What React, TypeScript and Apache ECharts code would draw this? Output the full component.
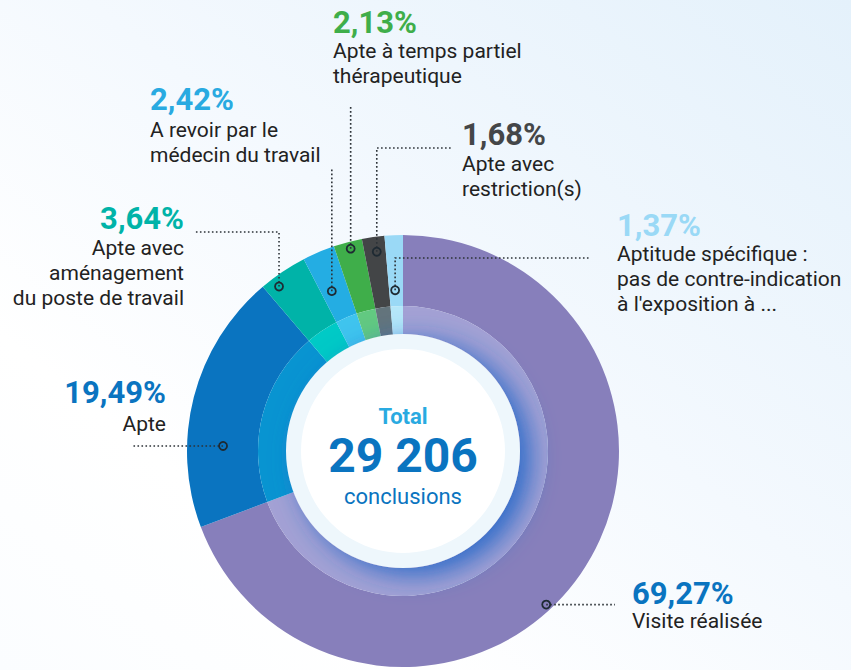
import React, { useEffect, useRef } from "react";
import * as echarts from "echarts";

// ---------- data ----------
const categories = [
  "Visite réalisée",
  "Apte",
  "Apte avec aménagement du poste de travail",
  "A revoir par le médecin du travail",
  "Apte à temps partiel thérapeutique",
  "Apte avec restriction(s)",
  "Aptitude spécifique : pas de contre-indication à l'exposition à ...",
];
const percentages = [69.27, 19.49, 3.64, 2.42, 2.13, 1.68, 1.37];
const percentLabels = ["69,27%", "19,49%", "3,64%", "2,42%", "2,13%", "1,68%", "1,37%"];
const labelLines = [
  ["Visite réalisée"],
  ["Apte"],
  ["Apte avec", "aménagement", "du poste de travail"],
  ["A revoir par le", "médecin du travail"],
  ["Apte à temps partiel", "thérapeutique"],
  ["Apte avec", "restriction(s)"],
  ["Aptitude spécifique :", "pas de contre-indication", "à l'exposition à ..."],
];
const totalTitle = "Total";
const totalValue = "29 206";
const totalUnit = "conclusions";

// ---------- styles / layout ----------
const outerColors = ["#877fbb", "#0a74c0", "#00b3a8", "#24ade3", "#3fae4a", "#434547", "#9ad9f6"];
const innerColors = ["#a3a1d4", "#0894d1", "#00cac6", "#3fc4ee", "#62c981", "#63747c", "#b5e7f9"];
const percentColors = ["#0a74c0", "#0a74c0", "#00b3a8", "#29aae1", "#3fae4a", "#444648", "#9ad9f6"];

const CX = 403;
const CY = 451;
// marker placement (angle clockwise from top in degrees, radius in px)
const markerAngle = [137.0, 271.6, 323.0, 336.0, 345.5, 352.5, 357.2];
const markerRadius = [210, 180, 206, 175, 209, 201, 161];
// leader: vertical to elbowY (null = none), then horizontal to endX (null = none)
const elbowY: (number | null)[] = [null, null, 232, 168, 105, 148, 258];
const endX: (number | null)[] = [615, 133, 195, null, null, 453, 590];
// label anchor
const labelX = [632, 166, 184, 150, 333, 462, 617];
const labelAlign = ["left", "right", "right", "left", "left", "left", "left"];
const percentY = [593, 392, 218, 99, 22, 134, 225];
const firstLineY = [621, 424, 248, 130, 51, 164, 254];
const LINE_H = 25;

const FONT = "Roboto, 'Noto Sans', sans-serif";

export default function App() {
  const ref = useRef<HTMLDivElement>(null);

  useEffect(() => {
    if (!ref.current) return;
    const chart = echarts.init(ref.current, undefined, { renderer: "svg" });

    const graphics: any[] = [];

    // center discs
    graphics.push({
      type: "circle",
      z: 50,
      silent: true,
      shape: { cx: CX, cy: CY, r: 117 },
      style: {
        fill: "#eef7fc",
        shadowBlur: 26,
        shadowColor: "rgba(40,105,200,0.95)",
        shadowOffsetX: 11,
        shadowOffsetY: 7,
      },
    });
    graphics.push({
      type: "circle",
      z: 51,
      silent: true,
      shape: { cx: CX, cy: CY, r: 102 },
      style: { fill: "#ffffff" },
    });
    graphics.push({
      type: "text", z: 60, silent: true, x: CX, y: 416,
      style: { text: totalTitle, fill: "#29aae1", font: `bold 22px ${FONT}`, textAlign: "center", textVerticalAlign: "middle" },
    });
    graphics.push({
      type: "text", z: 60, silent: true, x: CX, y: 455,
      style: { text: totalValue, fill: "#0a74c0", font: `bold 48px ${FONT}`, textAlign: "center", textVerticalAlign: "middle" },
    });
    graphics.push({
      type: "text", z: 60, silent: true, x: CX, y: 496,
      style: { text: totalUnit, fill: "#0a74c0", font: `22px ${FONT}`, textAlign: "center", textVerticalAlign: "middle" },
    });

    categories.forEach((_, i) => {
      const a = (markerAngle[i] * Math.PI) / 180;
      const mx = CX + markerRadius[i] * Math.sin(a);
      const my = CY - markerRadius[i] * Math.cos(a);
      const pts: number[][] = [[mx, my]];
      let lx = mx;
      let ly = my;
      if (elbowY[i] !== null) {
        ly = elbowY[i] as number;
        pts.push([lx, ly]);
      }
      if (endX[i] !== null) {
        lx = endX[i] as number;
        pts.push([lx, ly]);
      }
      graphics.push({
        type: "polyline",
        z: 70,
        silent: true,
        shape: { points: pts },
        style: { stroke: "#2d3338", lineWidth: 1.6, lineDash: [1.6, 2.4], fill: null },
      });
      graphics.push({
        type: "circle",
        z: 71,
        silent: true,
        shape: { cx: mx, cy: my, r: 4 },
        style: { fill: "rgba(0,0,0,0)", stroke: "#1e2a33", lineWidth: 1.8 },
      });
      graphics.push({
        type: "text",
        z: 72,
        silent: true,
        x: labelX[i],
        y: percentY[i],
        style: {
          text: percentLabels[i],
          fill: percentColors[i],
          font: `bold 31px ${FONT}`,
          textAlign: labelAlign[i],
          textVerticalAlign: "middle",
        },
      });
      labelLines[i].forEach((line, j) => {
        graphics.push({
          type: "text",
          z: 72,
          silent: true,
          x: labelX[i],
          y: firstLineY[i] + j * LINE_H,
          style: {
            text: line,
            fill: "#222222",
            font: `21px ${FONT}`,
            textAlign: labelAlign[i],
            textVerticalAlign: "middle",
          },
        });
      });
    });

    const common = {
      type: "pie",
      center: [CX, CY],
      startAngle: 90,
      clockwise: true,
      silent: true,
      avoidLabelOverlap: false,
      label: { show: false },
      labelLine: { show: false },
      emphasis: { disabled: true },
    };

    chart.setOption({
      animation: false,
      backgroundColor: "transparent",
      series: [
        {
          ...common,
          name: "outer",
          radius: [145, 216],
          data: categories.map((c, i) => ({ name: c, value: percentages[i], itemStyle: { color: outerColors[i] } })),
        },
        {
          ...common,
          name: "inner",
          radius: [116, 145],
          data: categories.map((c, i) => ({ name: c, value: percentages[i], itemStyle: { color: innerColors[i] } })),
        },
      ],
      graphic: { elements: graphics },
    });

    return () => chart.dispose();
  }, []);

  return (
    <div
      style={{
        position: "absolute",
        left: 0,
        top: 0,
        width: 851,
        height: 670,
        background: "linear-gradient(to bottom left, #e4f1fb 0%, #f4f9fe 45%, #ffffff 75%, #fbfdff 100%)",
      }}
    >
      <div ref={ref} style={{ width: 851, height: 670 }} />
    </div>
  );
}
